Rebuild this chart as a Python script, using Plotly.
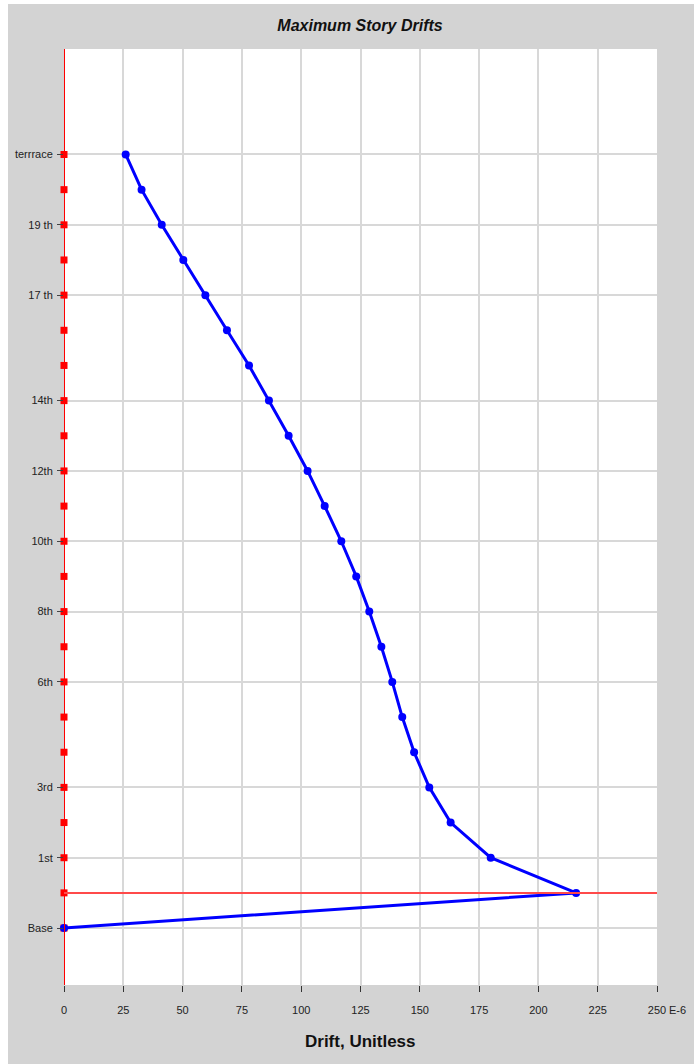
import plotly.graph_objects as go

# Story levels from Base (0) to terrace (22)
levels = list(range(23))
level_names = ["Base", "Plinth", "1st", "2nd", "3rd", "4th", "5th", "6th", "7th", "8th",
               "9th", "10th", "11th", "12th", "13th", "14th", "15th", "16th", "17 th",
               "18th", "19 th", "20th", "terrrace"]
# Drift values (E-6) from Base to terrace
drift = [0.0, 215.9, 179.9, 163.0, 154.0, 147.6, 142.6, 138.4, 133.8, 128.7,
         123.2, 116.9, 109.9, 102.7, 94.7, 86.4, 78.0, 68.7, 59.6, 50.3,
         41.2, 32.7, 26.0]

tick_levels = [0, 2, 4, 7, 9, 11, 13, 15, 18, 20, 22]
tick_labels = ["Base", "1st", "3rd", "6th", "8th", "10th", "12th", "14th", "17 th", "19 th", "terrrace"]
x_ticks = [0, 25, 50, 75, 100, 125, 150, 175, 200, 225, 250]
plinth_level = 1

FONT = "Liberation Sans, Arial, sans-serif"
GRAY = "#d3d3d3"

W, H = 694, 1064
ML, MR, MT, MB = 64, 37, 49, 79
PW, PH = W - ML - MR, H - MT - MB


def px_x(p):
    return (p - ML) / PW


def px_y(p):
    return (H - MB - p) / PH


fig = go.Figure()

# white strips along the outer left and top edges
fig.add_shape(type="rect", xref="paper", yref="paper",
              x0=px_x(-2), x1=px_x(8), y0=px_y(H + 2), y1=px_y(-2),
              fillcolor="white", line=dict(width=0), layer="below")
fig.add_shape(type="rect", xref="paper", yref="paper",
              x0=px_x(-2), x1=px_x(W + 2), y0=px_y(4), y1=px_y(-2),
              fillcolor="white", line=dict(width=0), layer="below")

# red vertical line at x=0
fig.add_shape(type="line", xref="x", yref="paper", x0=0, x1=0, y0=0, y1=1,
              line=dict(color="#ff0000", width=2), layer="above")
# red horizontal line at plinth
fig.add_shape(type="line", xref="paper", yref="y", x0=0, x1=1, y0=plinth_level, y1=plinth_level,
              line=dict(color="#ff4a4a", width=2), layer="above")

# red square markers at each level
fig.add_trace(go.Scatter(x=[0] * len(levels), y=levels, mode="markers",
                         marker=dict(symbol="square", size=7, color="#ff0000"),
                         cliponaxis=False, showlegend=False, hoverinfo="skip"))

# drift profile
fig.add_trace(go.Scatter(x=drift, y=levels, mode="lines+markers",
                         line=dict(color="#0000ff", width=3),
                         marker=dict(symbol="circle", size=8, color="#0000ff"),
                         cliponaxis=False, showlegend=False))

fig.add_annotation(text="E-6", xref="paper", yref="paper", x=px_x(667), y=px_y(1010),
                   xanchor="left", yanchor="middle", showarrow=False,
                   font=dict(family=FONT, size=11, color="#222222"))
fig.add_annotation(text="<b>Drift, Unitless</b>", xref="paper", yref="paper",
                   x=px_x(360), y=px_y(1041), xanchor="center", yanchor="middle",
                   showarrow=False, font=dict(family=FONT, size=17, color="#111111"))

fig.update_layout(
    width=W, height=H,
    margin=dict(l=ML, r=MR, t=MT, b=MB),
    paper_bgcolor=GRAY, plot_bgcolor="white",
    title=dict(text="<b><i>Maximum Story Drifts</i></b>", x=360 / W, xanchor="center",
               y=1 - 25 / H, yanchor="middle",
               font=dict(family=FONT, size=16, color="#111111")),
    xaxis=dict(range=[0, 250], tickvals=x_ticks, ticktext=[str(v) for v in x_ticks],
               showgrid=True, gridcolor="#d8d8d8", gridwidth=1.5, zeroline=False,
               ticks="outside", ticklen=6, tickcolor="#333333", tickwidth=1,
               ticklabelstandoff=9,
               showline=False, automargin=False,
               tickfont=dict(family=FONT, size=11, color="#222222")),
    yaxis=dict(range=[-1.62, 25.0], tickvals=tick_levels, ticktext=tick_labels,
               showgrid=True, gridcolor="#d8d8d8", gridwidth=1.5, zeroline=False,
               ticks="outside", ticklen=6, tickcolor="#444444", ticklabelstandoff=2,
               showline=False, automargin=False,
               tickfont=dict(family=FONT, size=11, color="#222222")),
)

fig.write_html("out.html", config={"displayModeBar": False},
               post_script="document.body.style.margin='0';document.body.style.overflow='hidden';")
